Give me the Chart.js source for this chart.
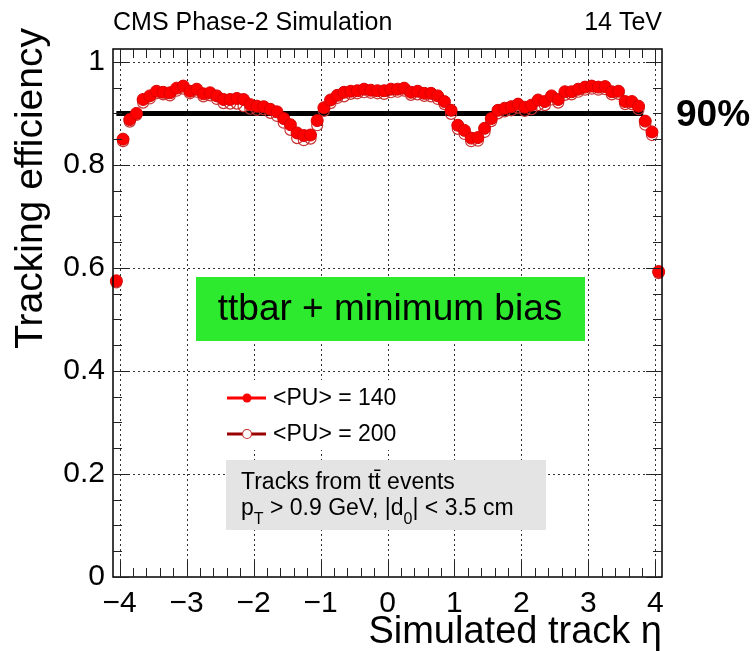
<!DOCTYPE html>
<html>
<head>
<meta charset="utf-8">
<script src="https://cdn.jsdelivr.net/npm/chart.js@4.4.0/dist/chart.umd.min.js"></script>
<style>
  html, body { margin: 0; padding: 0; background: #fff; }
  #wrap { width: 754px; height: 651px; }
</style>
</head>
<body>
<div id="wrap"><canvas id="effChart" width="754" height="651"></canvas></div>
<script>
// eta bin centres
const etaBins = [-4.05,-3.95,-3.85,-3.75,-3.65,-3.55,-3.45,-3.35,-3.25,-3.15,
  -3.05,-2.95,-2.85,-2.75,-2.65,-2.55,-2.45,-2.35,-2.25,-2.15,
  -2.05,-1.95,-1.85,-1.75,-1.65,-1.55,-1.45,-1.35,-1.25,-1.15,
  -1.05,-0.95,-0.85,-0.75,-0.65,-0.55,-0.45,-0.35,-0.25,-0.15,
  -0.05,0.05,0.15,0.25,0.35,0.45,0.55,0.65,0.75,0.85,
  0.95,1.05,1.15,1.25,1.35,1.45,1.55,1.65,1.75,1.85,
  1.95,2.05,2.15,2.25,2.35,2.45,2.55,2.65,2.75,2.85,
  2.95,3.05,3.15,3.25,3.35,3.45,3.55,3.65,3.75,3.85,
  3.95,4.05];

const effPU140 = [0.575,0.850,0.888,0.900,0.927,0.934,0.943,0.941,0.940,0.949,
  0.953,0.943,0.947,0.938,0.940,0.934,0.927,0.927,0.929,0.927,
  0.917,0.914,0.913,0.908,0.903,0.890,0.878,0.862,0.857,0.858,
  0.886,0.911,0.926,0.935,0.941,0.943,0.944,0.947,0.945,0.944,
  0.944,0.947,0.947,0.949,0.941,0.943,0.939,0.939,0.934,0.923,
  0.906,0.877,0.867,0.852,0.853,0.871,0.890,0.906,0.910,0.913,
  0.918,0.912,0.916,0.926,0.923,0.934,0.927,0.942,0.942,0.947,
  0.951,0.953,0.951,0.952,0.942,0.943,0.923,0.923,0.914,0.885,
  0.864,0.593];

const effPU200 = [0.572,0.846,0.884,0.897,0.921,0.929,0.939,0.937,0.935,0.944,
  0.948,0.939,0.942,0.933,0.935,0.928,0.920,0.919,0.919,0.914,
  0.909,0.907,0.908,0.901,0.895,0.882,0.868,0.852,0.848,0.851,
  0.877,0.905,0.920,0.930,0.933,0.938,0.939,0.941,0.940,0.939,
  0.938,0.941,0.942,0.944,0.936,0.937,0.934,0.933,0.928,0.918,
  0.899,0.870,0.860,0.846,0.847,0.864,0.885,0.900,0.904,0.906,
  0.911,0.905,0.908,0.916,0.916,0.927,0.921,0.936,0.937,0.942,
  0.946,0.948,0.946,0.947,0.937,0.938,0.918,0.918,0.908,0.878,
  0.858,0.590];

const refLineX = [-4.05, 3.82];
const refLineY = [0.9, 0.9];

const xTickValues = [-4,-3,-2,-1,0,1,2,3,4];
const yTickValues = [0,0.2,0.4,0.6,0.8,1];
const xMinorStep = 0.2;
const yMinorStep = 0.05;

const FONT = '"Liberation Sans", Arial, sans-serif';

function toPoints(xs, ys) {
  return xs.map((x, i) => ({x: x, y: ys[i]}));
}
function fmtTick(v) {
  const r = Math.round(v * 10) / 10;
  return r < 0 ? '\u2212' + Math.abs(r) : String(r);
}

// grid, frame, ROOT-like inner ticks, annotations
const rootStyle = {
  id: 'rootStyle',
  beforeDatasetsDraw(chart) {
    const {ctx, chartArea: a, scales: {x, y}} = chart;
    ctx.save();
    ctx.strokeStyle = '#333';
    ctx.lineWidth = 1;
    ctx.setLineDash([2, 3]);
    xTickValues.forEach(v => {
      const px = Math.round(x.getPixelForValue(v)) + 0.5;
      ctx.beginPath(); ctx.moveTo(px, a.top); ctx.lineTo(px, a.bottom); ctx.stroke();
    });
    yTickValues.forEach(v => {
      if (v === 0) return;
      const py = Math.round(y.getPixelForValue(v)) + 0.5;
      ctx.beginPath(); ctx.moveTo(a.left, py); ctx.lineTo(a.right, py); ctx.stroke();
    });
    ctx.restore();
  },
  afterDatasetsDraw(chart) {
    const {ctx, chartArea: a, scales: {x, y}} = chart;
    ctx.save();
    // frame
    ctx.strokeStyle = '#000';
    ctx.lineWidth = 1.5;
    ctx.strokeRect(a.left, a.top, a.right - a.left, a.bottom - a.top);
    // ticks
    ctx.lineWidth = 1;
    ctx.strokeStyle = '#222';
    for (let v = -4; v <= 4.001; v += xMinorStep) {
      const px = Math.round(x.getPixelForValue(v)) + 0.5;
      const major = Math.abs(v - Math.round(v)) < 1e-6;
      const len = major ? 16 : 9;
      ctx.beginPath();
      ctx.moveTo(px, a.bottom); ctx.lineTo(px, a.bottom - len);
      ctx.moveTo(px, a.top); ctx.lineTo(px, a.top + len);
      ctx.stroke();
    }
    for (let v = 0; v <= 1.0001; v += yMinorStep) {
      const py = Math.round(y.getPixelForValue(v)) + 0.5;
      const major = Math.abs(v * 5 - Math.round(v * 5)) < 1e-6;
      const len = major ? 16 : 9;
      ctx.beginPath();
      ctx.moveTo(a.left, py); ctx.lineTo(a.left + len, py);
      ctx.moveTo(a.right, py); ctx.lineTo(a.right - len, py);
      ctx.stroke();
    }
    ctx.restore();
  },
  afterDraw(chart) {
    const {ctx, chartArea: a} = chart;
    ctx.save();
    ctx.fillStyle = '#000';

    // header
    ctx.font = '25px ' + FONT;
    ctx.textBaseline = 'alphabetic';
    ctx.textAlign = 'left';
    ctx.fillText('CMS Phase-2 Simulation', a.left, 30);
    ctx.textAlign = 'right';
    ctx.fillText('14 TeV', a.right, 30);

    // axis titles
    ctx.font = '38px ' + FONT;
    ctx.textAlign = 'right';
    ctx.fillText('Simulated track \u03b7', a.right, 643);
    ctx.font = '39px ' + FONT;
    ctx.save();
    ctx.translate(42, 28);
    ctx.rotate(-Math.PI / 2);
    ctx.fillText('Tracking efficiency', 0, 0);
    ctx.restore();

    // 90% label
    ctx.font = 'bold 37px ' + FONT;
    ctx.textAlign = 'left';
    ctx.textBaseline = 'middle';
    ctx.fillText('90%', 676, 116);

    // green box
    ctx.fillStyle = '#2eea2e';
    ctx.fillRect(196, 277, 389, 64);
    ctx.fillStyle = '#000';
    ctx.font = '37px ' + FONT;
    ctx.textAlign = 'center';
    ctx.fillText('ttbar + minimum bias', 390, 310);

    // legend
    ctx.fillStyle = '#fff';
    ctx.fillRect(215, 380, 200, 70);
    const ds = chart.data.datasets;
    const rows = [
      {d: ds[1], y: 398, line: '#ff0000', filled: true},
      {d: ds[0], y: 434, line: '#990000', filled: false}
    ];
    rows.forEach(r => {
      ctx.strokeStyle = r.line;
      ctx.lineWidth = 3;
      ctx.beginPath(); ctx.moveTo(227, r.y); ctx.lineTo(266, r.y); ctx.stroke();
      ctx.beginPath(); ctx.arc(247, r.y, 4.5, 0, Math.PI * 2);
      if (r.filled) {
        ctx.fillStyle = '#ff0000'; ctx.fill();
      } else {
        ctx.fillStyle = '#fff'; ctx.fill();
        ctx.lineWidth = 1.2; ctx.strokeStyle = '#c83232'; ctx.stroke();
      }
      ctx.fillStyle = '#000';
      ctx.font = '23px ' + FONT;
      ctx.textAlign = 'left';
      ctx.textBaseline = 'middle';
      ctx.fillText(r.d.label, 273, r.y + 1);
    });

    // info box
    ctx.fillStyle = '#e4e4e4';
    ctx.fillRect(226, 460, 320, 70);
    ctx.fillStyle = '#000';
    ctx.textBaseline = 'alphabetic';
    ctx.font = '23px ' + FONT;
    ctx.fillText('Tracks from t\u0074\u0304 events', 241, 489);
    let cx = 241;
    const base = 515;
    const seg = (txt, size, dy) => {
      ctx.font = size + 'px ' + FONT;
      ctx.fillText(txt, cx, base + dy);
      cx += ctx.measureText(txt).width;
    };
    seg('p', 23, 0); seg('T', 16, 9); seg(' > 0.9 GeV, |d', 23, 0);
    seg('0', 16, 9); seg('| < 3.5 cm', 23, 0);
    ctx.restore();
  }
};

const chartData = {
  datasets: [
    {
      label: '<PU> = 200',
      data: toPoints(etaBins, effPU200),
      showLine: false,
      pointRadius: 5.5,
      pointBackgroundColor: 'rgba(255,255,255,0)',
      pointBorderColor: '#c83232',
      pointBorderWidth: 1.2,
      clip: false,
      order: 3
    },
    {
      label: '<PU> = 140',
      data: toPoints(etaBins, effPU140),
      showLine: false,
      pointRadius: 6,
      pointBackgroundColor: '#ff0000',
      pointBorderColor: '#d80000',
      pointBorderWidth: 1,
      clip: false,
      order: 2
    },
    {
      label: '90%',
      data: toPoints(refLineX, refLineY),
      showLine: true,
      borderColor: '#000',
      borderWidth: 5,
      pointRadius: 0,
      order: 4
    }
  ]
};

const chart = new Chart(document.getElementById('effChart'), {
  type: 'scatter',
  data: chartData,
  options: {
    responsive: false,
    animation: false,
    devicePixelRatio: 1,
    layout: { padding: { top: 49, right: 92, left: 0, bottom: 0 } },
    plugins: { legend: { display: false }, tooltip: { enabled: false } },
    scales: {
      x: {
        type: 'linear',
        min: -4.1,
        max: 4.1,
        afterBuildTicks: axis => { axis.ticks = xTickValues.map(v => ({value: v})); },
        afterFit: scale => { scale.height = 74; },
        grid: { display: false, drawTicks: false },
        border: { display: false },
        ticks: {
          padding: 9,
          color: '#000',
          font: { family: FONT, size: 30 },
          maxRotation: 0,
          callback: v => fmtTick(v)
        }
      },
      y: {
        type: 'linear',
        min: 0,
        max: 1.025,
        afterBuildTicks: axis => { axis.ticks = yTickValues.map(v => ({value: v})); },
        afterFit: scale => { scale.width = 113; },
        grid: { display: false, drawTicks: false },
        border: { display: false },
        ticks: {
          padding: 8,
          color: '#000',
          font: { family: FONT, size: 30 },
          callback: v => fmtTick(v)
        }
      }
    }
  },
  plugins: [rootStyle]
});
</script>
</body>
</html>
